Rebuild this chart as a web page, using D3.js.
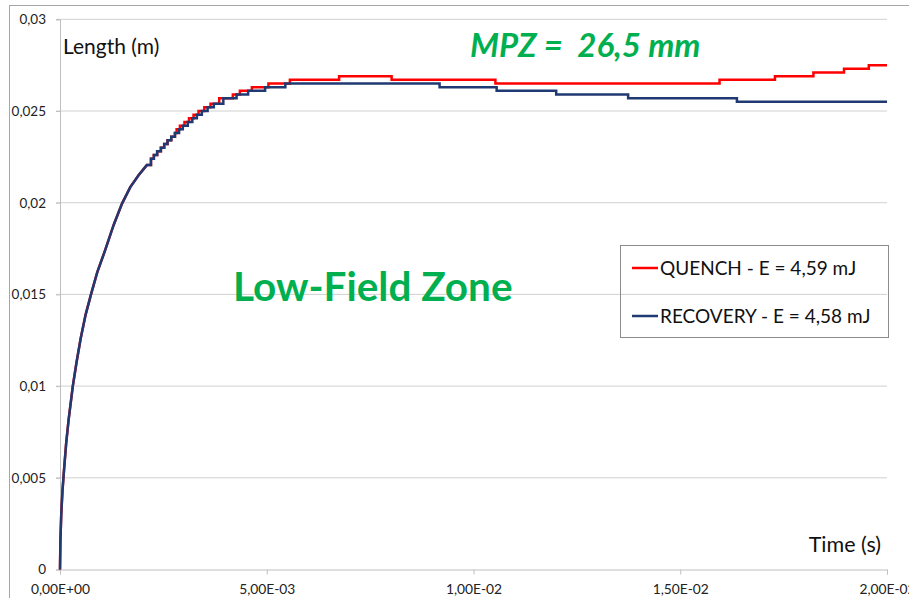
<!DOCTYPE html>
<html>
<head>
<meta charset="utf-8">
<script src="https://cdn.jsdelivr.net/npm/d3@7"></script>
<style>
  body { margin: 0; background: #fff; overflow: hidden; }
  svg { display: block; font-family: "Lato", "Open Sans", sans-serif; }
</style>
</head>
<body>
<svg width="909" height="598"></svg>
<script>
// tick values and labels
const yTicks = [0, 0.005, 0.01, 0.015, 0.02, 0.025, 0.03];
const yTickLabels = ["0", "0,005", "0,01", "0,015", "0,02", "0,025", "0,03"];
const xTicks = [0, 0.005, 0.01, 0.015, 0.02];
const xTickLabels = ["0,00E+00", "5,00E-03", "1,00E-02", "1,50E-02", "2,00E-02"];

// rising part, same for both runs (time in ms, length in mm)
const riseTime = [0, 0.01, 0.03, 0.06, 0.1, 0.15, 0.21, 0.31, 0.4, 0.5, 0.62, 0.75, 0.9, 1.09, 1.3, 1.5, 1.7, 1.9, 2.1];
const riseLength = [0, 1.6, 3.0, 4.3, 5.5, 6.9, 8.2, 10.0, 11.3, 12.6, 13.9, 15.0, 16.2, 17.4, 18.8, 19.95, 20.85, 21.5, 22.05];

// staircase part: each level starts at the given time (ms), length in mm
const quenchStepTime = [2.2, 2.27, 2.35, 2.44, 2.52, 2.6, 2.69, 2.78, 2.82, 2.9, 3.01, 3.12, 3.23, 3.35, 3.49, 3.64, 3.85, 4.18, 4.35, 4.64, 5.04, 5.56, 6.75, 8.02, 10.53, 15.95, 17.29, 18.22, 18.96, 19.56, 20];
const quenchStepLength = [22.4, 22.6, 22.8, 23.0, 23.2, 23.4, 23.6, 23.8, 24.0, 24.2, 24.4, 24.6, 24.8, 25.0, 25.2, 25.4, 25.7, 25.9, 26.1, 26.3, 26.5, 26.7, 26.9, 26.7, 26.5, 26.7, 26.9, 27.1, 27.3, 27.5, 27.5];
const recoveryStepTime = [2.2, 2.27, 2.35, 2.44, 2.52, 2.6, 2.69, 2.78, 2.88, 2.97, 3.09, 3.2, 3.31, 3.43, 3.57, 3.72, 3.95, 4.27, 4.55, 4.96, 5.45, 9.18, 10.56, 12.0, 13.74, 16.37, 20];
const recoveryStepLength = [22.4, 22.6, 22.8, 23.0, 23.2, 23.4, 23.6, 23.8, 24.0, 24.2, 24.4, 24.6, 24.8, 25.0, 25.2, 25.4, 25.7, 25.9, 26.1, 26.3, 26.5, 26.3, 26.1, 25.9, 25.7, 25.5, 25.5];

const seriesNames = ["QUENCH - E = 4,59 mJ", "RECOVERY - E = 4,58 mJ"];
const seriesColors = ["#ff0000", "#1f3a72"];

const svg = d3.select("svg");
const green = "#00b050";

const plotLeft = 60, plotRight = 887, plotTop = 19.3, plotBottom = 569.5;

const xScale = d3.scaleLinear().domain([0, 0.02]).range([plotLeft, plotRight]);
const yScale = d3.scaleLinear().domain([0, 0.03]).range([plotBottom, plotTop]);

// outer chart frame
svg.append("rect")
  .attr("x", 9.5).attr("y", 5.5)
  .attr("width", 920).attr("height", 620)
  .attr("fill", "none")
  .attr("stroke", "#a6a6a6");

// horizontal gridlines
svg.append("g")
  .selectAll("line")
  .data(yTicks.slice(1))
  .enter()
  .append("line")
  .attr("x1", plotLeft - 4).attr("x2", plotRight)
  .attr("y1", (d) => yScale(d)).attr("y2", (d) => yScale(d))
  .attr("stroke", "#d0d0d0")
  .attr("stroke-width", 1);

// y axis
const yAxis = svg.append("g")
  .attr("transform", "translate(" + plotLeft + ",0)")
  .call(d3.axisLeft(yScale).tickValues(yTicks).tickSize(4).tickPadding(10)
    .tickFormat((d, i) => yTickLabels[i]));
yAxis.select(".domain").attr("stroke", "#bfbfbf");
yAxis.selectAll(".tick line").attr("stroke", "#bfbfbf");
yAxis.selectAll("text").attr("font-size", 13.5).attr("fill", "#222")
  .attr("font-family", "Lato, sans-serif");

// x axis
const xAxis = svg.append("g")
  .attr("transform", "translate(0," + plotBottom + ")")
  .call(d3.axisBottom(xScale).tickValues(xTicks).tickSize(5).tickPadding(10)
    .tickFormat((d, i) => xTickLabels[i]));
xAxis.select(".domain").attr("stroke", "#bfbfbf");
xAxis.selectAll(".tick line").attr("stroke", "#bfbfbf");
xAxis.selectAll("text").attr("font-size", 13.8).attr("fill", "#222")
  .attr("font-family", "Lato, sans-serif");

// build the vertices of a series: smooth rise then staircase
const buildPoints = (stepTime, stepLength) => {
  let pts = riseTime.map((t, i) => [t / 1000, riseLength[i] / 1000]);
  let prev = riseLength[riseLength.length - 1];
  stepTime.forEach((t, i) => {
    pts.push([t / 1000, prev / 1000]);
    pts.push([t / 1000, stepLength[i] / 1000]);
    prev = stepLength[i];
  });
  return pts;
};

const line = d3.line()
  .x((d) => xScale(d[0]))
  .y((d) => yScale(d[1]));

const series = [
  buildPoints(quenchStepTime, quenchStepLength),
  buildPoints(recoveryStepTime, recoveryStepLength)
];

svg.append("g")
  .selectAll("path")
  .data(series)
  .enter()
  .append("path")
  .attr("d", (d) => line(d))
  .attr("fill", "none")
  .attr("stroke", (d, i) => seriesColors[i])
  .attr("stroke-width", 2.5)
  .attr("stroke-linejoin", "miter");

// axis titles
svg.append("text")
  .attr("x", 63).attr("y", 54)
  .attr("font-size", 21).attr("fill", "#111")
  .text("Length (m)");

svg.append("text")
  .attr("x", 881).attr("y", 552)
  .attr("text-anchor", "end")
  .attr("font-size", 21.5).attr("fill", "#111")
  .text("Time (s)");

// annotations
svg.append("text")
  .attr("x", 470).attr("y", 57)
  .attr("font-size", 33).attr("font-weight", "bold").attr("font-style", "italic")
  .attr("fill", green)
  .attr("xml:space", "preserve")
  .text("MPZ =  26,5 mm");

svg.append("text")
  .attr("x", 233).attr("y", 301)
  .attr("font-size", 40.5).attr("font-weight", "bold")
  .attr("fill", green)
  .text("Low-Field Zone");

// legend
const legend = svg.append("g");
legend.append("rect")
  .attr("x", 620.5).attr("y", 245.5)
  .attr("width", 268).attr("height", 92)
  .attr("fill", "none")
  .attr("stroke", "#8c8c8c");

const rows = legend.selectAll("g.row")
  .data(seriesNames)
  .enter()
  .append("g")
  .attr("class", "row")
  .attr("transform", (d, i) => "translate(0," + (268 + i * 48) + ")");

rows.append("line")
  .attr("x1", 632).attr("x2", 658)
  .attr("y1", 0).attr("y2", 0)
  .attr("stroke", (d, i) => seriesColors[i])
  .attr("stroke-width", 2.5);

rows.append("text")
  .attr("x", 660).attr("y", 7)
  .attr("font-size", 19).attr("fill", "#111")
  .text((d) => d);
</script>
</body>
</html>
